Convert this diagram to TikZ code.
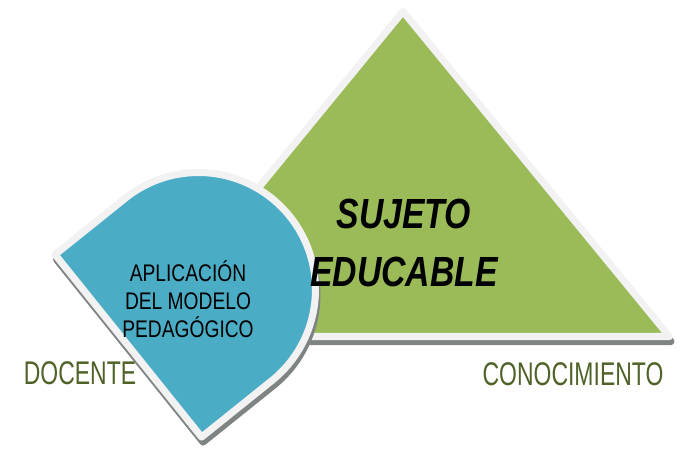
\documentclass[tikz,border=0pt]{standalone}
\usepackage{fontspec}
\setmainfont{Liberation Sans}
\usetikzlibrary{calc}
\definecolor{verde}{HTML}{9BBB59}
\definecolor{aqua}{HTML}{4BACC6}
\definecolor{borde}{HTML}{F2F2F2}
\definecolor{oliva}{HTML}{4F6228}
\definecolor{gris}{HTML}{7E8484}

\begin{document}
\begin{tikzpicture}[x=0.03cm,y=0.03cm,
    forma/.style={draw=borde, line width=6pt, line join=round},
    sombra/.style={draw=gris, fill=gris, line width=6pt, line join=round},
    etiqueta/.style={text=oliva, font=\fontsize{28}{32}\selectfont, xscale=0.7, inner sep=0pt, anchor=base}]
\useasboundingbox (0,0) rectangle (685,449);
% triangulo
\coordinate (A) at (136.6,112.5);
\coordinate (B) at (669.4,112.5);
\coordinate (T) at (403,437.5);
\draw[sombra] ($(A)+(1.5,-5)$) -- ($(B)+(1.5,-5)$) -- ($(T)+(1.5,-5)$) -- cycle;
\draw[forma, fill=verde] (A) -- (B) -- (T) -- cycle;
% gota
\begin{scope}[shift={(200,154.5)}, rotate=38.75]
\draw[sombra] (-90,117) -- (-90,-117) -- (0,-117) arc[start angle=-90, end angle=90, radius=117] -- cycle;
\end{scope}
\begin{scope}[shift={(198.5,159.5)}, rotate=38.75]
\draw[forma, fill=aqua] (-90,117) -- (-90,-117) -- (0,-117) arc[start angle=-90, end angle=90, radius=117] -- cycle;
\end{scope}
% textos
\node[font=\fontsize{36}{50}\selectfont\bfseries\itshape, xscale=0.8, align=center] (sujeto) at (404,206) {SUJETO\\EDUCABLE};
\node[font=\fontsize{20.5}{24}\selectfont, xscale=0.8, align=center] (aplicacion) at (188,150) {APLICACIÓN\\DEL MODELO\\PEDAGÓGICO};
\node[etiqueta] (docente) at (80,64.7) {DOCENTE};
\node[etiqueta] (conocimiento) at (573,64) {CONOCIMIENTO};
\end{tikzpicture}
\end{document}
